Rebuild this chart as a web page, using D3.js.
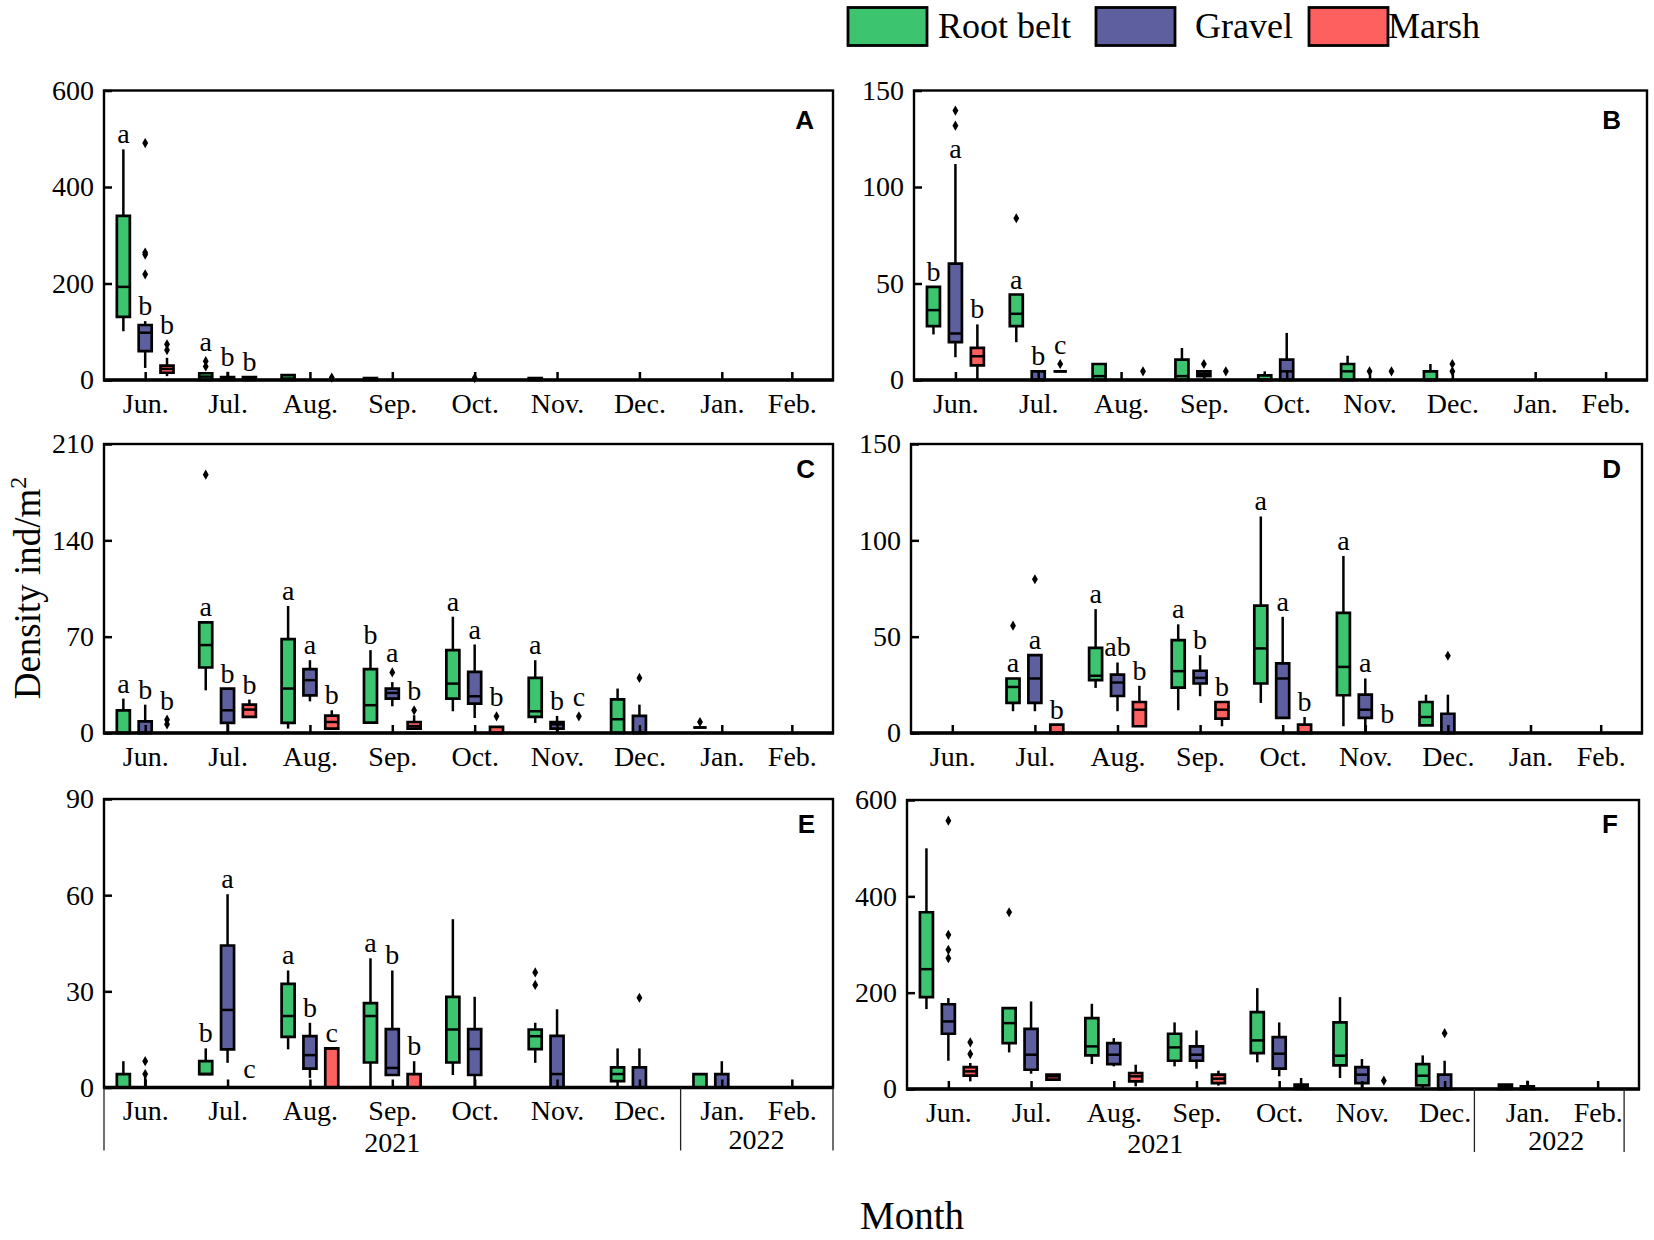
<!DOCTYPE html>
<html>
<head>
<meta charset="utf-8">
<script src="https://cdn.jsdelivr.net/npm/d3@7"></script>
<style>
  body { margin: 0; background: #fff; }
  svg { display: block; font-family: "Liberation Serif", "Times New Roman", serif; }
</style>
</head>
<body>
<script>
// categories
const months = ["Jun.", "Jul.", "Aug.", "Sep.", "Oct.", "Nov.", "Dec.", "Jan.", "Feb."];
const monthPos = [0, 1, 2, 3, 4, 5, 6, 7, 7.85];
const seriesNames = ["Root belt", "Gravel", "Marsh"];

// y tick labels per panel
const yTicksA = [0, 200, 400, 600];
const yTicksB = [0, 50, 100, 150];
const yTicksC = [0, 70, 140, 210];
const yTicksD = [0, 50, 100, 150];
const yTicksE = [0, 30, 60, 90];
const yTicksF = [0, 200, 400, 600];

// boxes: [month, series, low whisker, q1, median, q3, high whisker]
const boxesA = [
  [0, 0, 101, 131, 193, 340, 478], [0, 1, 25, 60, 98, 114, 122], [0, 2, 8, 15, 23, 30, 46],
  [1, 0, 0, 0, 7, 14, 14], [1, 1, 0, 0, 2, 6, 17], [1, 2, 0, 0, 2, 6, 6],
  [2, 0, 0, 0, 3, 10, 10], [3, 0, 0, 0, 1, 4, 4], [5, 0, 0, 0, 1, 4, 4]
];
const outliersA = [
  [0, 1, 491], [0, 1, 264], [0, 1, 260], [0, 1, 219], [0, 2, 62], [0, 2, 74],
  [1, 0, 28], [1, 0, 39], [2, 2, 5], [4, 1, 4]
];
const lettersA = [[0, 0, "a"], [0, 1, "b"], [0, 2, "b"], [1, 0, "a"], [1, 1, "b"], [1, 2, "b"]];

const boxesB = [
  [0, 0, 23.6, 27.9, 36.2, 48.2, 48.2], [0, 1, 11.8, 19.6, 24.1, 60.3, 111.9], [0, 2, 0, 7.6, 12.3, 16.6, 28.8],
  [1, 0, 19.6, 27.9, 34.3, 44.3, 44.3], [1, 1, 0, 0, 0, 4.5, 4.5], [1, 2, 4.5, 4.5, 4.5, 4.5, 4.5],
  [2, 0, 0, 0, 2, 8.3, 8.3],
  [3, 0, 0, 0, 2, 10.6, 16.6], [3, 1, 2, 2, 3, 4.5, 4.5],
  [4, 0, 0, 0, 0, 2.4, 4.5], [4, 1, 0, 0, 4.5, 10.6, 24.4],
  [5, 0, 0, 0, 4.5, 8.3, 12.6],
  [6, 0, 0, 0, 0, 4.5, 8.3]
];
const outliersB = [
  [0, 1, 139.6], [0, 1, 131.8], [1, 0, 83.8], [1, 2, 8.3], [2, 2, 4.5],
  [3, 1, 8.3], [3, 2, 4.5], [5, 1, 4.5], [5, 2, 4.5], [6, 1, 8.3], [6, 1, 4.5]
];
const lettersB = [[0, 0, "b"], [0, 1, "a"], [0, 2, "b"], [1, 0, "a"], [1, 1, "b"], [1, 2, "c"]];

const boxesC = [
  [0, 0, 0, 0, 0, 16.5, 25], [0, 1, 0, 0, 0, 8.5, 20.6],
  [1, 0, 31, 47.6, 63.9, 80.4, 80.4], [1, 1, 0, 7.3, 16.5, 32.3, 32.3], [1, 2, 11.7, 11.7, 17, 20.6, 24.3],
  [2, 0, 3.2, 7.3, 32.3, 68.2, 92.3], [2, 1, 23, 27.4, 38.4, 46.4, 52.9], [2, 2, 3.2, 3.2, 8, 12.6, 16.5],
  [3, 0, 7.5, 7.5, 20.2, 46.4, 60.2], [3, 1, 19.4, 25, 29.1, 32.3, 37], [3, 2, 3.2, 3.2, 5, 8, 12.9],
  [4, 0, 15.8, 25, 35.9, 60.2, 84.5], [4, 1, 10.9, 21.4, 26.7, 44.4, 64.3], [4, 2, 0, 0, 0, 4.4, 4.4],
  [5, 0, 7.3, 11.7, 15.8, 40, 52.9], [5, 1, 0, 3.2, 6.3, 8, 12.4],
  [6, 0, 0, 0, 10, 24.5, 32.3], [6, 1, 0, 0, 0, 12.4, 20.6],
  [7, 0, 4, 4, 4, 4, 4]
];
const outliersC = [
  [0, 2, 9.7], [0, 2, 6.3], [1, 0, 187.7], [3, 1, 44], [3, 2, 16.5],
  [4, 2, 12.1], [5, 2, 12.1], [6, 1, 40], [7, 0, 8]
];
const lettersC = [
  [0, 0, "a"], [0, 1, "b"], [0, 2, "b"], [1, 0, "a"], [1, 1, "b"], [1, 2, "b"],
  [2, 0, "a"], [2, 1, "a"], [2, 2, "b"], [3, 0, "b"], [3, 1, "a"], [3, 2, "b"],
  [4, 0, "a"], [4, 1, "a"], [4, 2, "b"], [5, 0, "a"], [5, 1, "b"], [5, 2, "c"]
];

const boxesD = [
  [1, 0, 11.3, 15.6, 23.9, 28.3, 28.3], [1, 1, 11.3, 15.6, 28.3, 40.4, 40.4], [1, 2, 0, 0, 0, 4.3, 4.3],
  [2, 0, 23.4, 27.4, 29.7, 44.2, 64.3], [2, 1, 11.3, 19.2, 26.2, 30.3, 36.6], [2, 2, 3.5, 3.5, 12.1, 16.1, 24.5],
  [3, 0, 11.8, 23.6, 32.1, 48.2, 56.4], [3, 1, 19.1, 25.7, 28.6, 32.3, 40.4], [3, 2, 3.5, 7.5, 12.1, 16.1, 16.1],
  [4, 0, 15.6, 25.7, 43.9, 66.1, 112.4], [4, 1, 7.8, 7.8, 28.3, 36.1, 60.3], [4, 2, 0, 0, 0, 4.3, 8.3],
  [5, 0, 3.5, 19.6, 34.3, 62.4, 91.9], [5, 1, 0, 7.8, 12.1, 19.9, 28.3],
  [6, 0, 4, 4, 8.3, 16.1, 19.9], [6, 1, 0, 0, 0, 10, 19.9]
];
const outliersD = [[1, 0, 55.7], [1, 1, 79.8], [6, 1, 40.1]];
const lettersD = [
  [1, 0, "a"], [1, 1, "a"], [1, 2, "b"], [2, 0, "a"], [2, 1, "ab"], [2, 2, "b"],
  [3, 0, "a"], [3, 1, "b"], [3, 2, "b"], [4, 0, "a"], [4, 1, "a"], [4, 2, "b"],
  [5, 0, "a"], [5, 1, "a"], [5, 2, "b"]
];

const boxesE = [
  [0, 0, 0, 0, 0, 4.2, 8.2], [0, 1, 0, 0, 0, 0, 4.2],
  [1, 0, 4.2, 4.2, 4.2, 8.2, 12.2], [1, 1, 7.7, 11.9, 24.2, 44.3, 60.3],
  [2, 0, 11.9, 15.8, 22.3, 32.3, 36.5], [2, 1, 3, 5.9, 10.1, 16, 20.2], [2, 2, 0, 0, 12.2, 12.2, 12.2],
  [3, 0, 0, 7.8, 22.3, 26.3, 40.3], [3, 1, 3.9, 3.9, 6.1, 18.2, 36.5], [3, 2, 0, 0, 0, 4.2, 8.2],
  [4, 0, 3.9, 7.8, 18.1, 28.3, 52.5], [4, 1, 0, 3.9, 12, 18.2, 28.3],
  [5, 0, 7.7, 12, 16, 18.1, 20.2], [5, 1, 0, 0, 4.2, 16.1, 24.4],
  [6, 0, 0, 2, 4.2, 6.25, 12.2], [6, 1, 0, 0, 0, 6.25, 12.2],
  [7, 0, 0, 0, 0, 4.2, 4.2], [7, 1, 0, 0, 0, 4.2, 8.2]
];
const outliersE = [[0, 1, 8.2], [0, 1, 4.2], [5, 0, 35.9], [5, 0, 32], [6, 1, 28]];
const lettersE = [
  [1, 0, "b"], [1, 1, "a"], [1, 2, "c"], [2, 0, "a"], [2, 1, "b"], [2, 2, "c"],
  [3, 0, "a"], [3, 1, "b"], [3, 2, "b"]
];

const boxesF = [
  [0, 0, 165.9, 190.7, 248.8, 367, 499.7], [0, 1, 58.7, 114.7, 140.3, 176, 188.7], [0, 2, 15.9, 27.6, 36.6, 45.6, 54],
  [1, 0, 76, 95.4, 136.8, 168, 168], [1, 1, 31.8, 40, 71.2, 125, 181.8], [1, 2, 19.4, 19.4, 26.3, 29.7, 29.7],
  [2, 0, 51.8, 69.8, 88.5, 147.2, 176.9], [2, 1, 47, 51.8, 71.2, 95.4, 105.7], [2, 2, 5.5, 15.9, 26.3, 33.2, 50.4],
  [3, 0, 47, 58.7, 86.4, 114.7, 138.2], [3, 1, 42.2, 58.7, 71.2, 88.5, 121.6], [3, 2, 7, 12.4, 21.4, 29.7, 38],
  [4, 0, 55.3, 74.6, 100.9, 159.6, 209.4], [4, 1, 26.3, 42.2, 73.3, 107.8, 138.2], [4, 2, 0, 0, 4, 9, 22.8],
  [5, 0, 22.8, 49, 69.1, 138.2, 190.7], [5, 1, 0, 12.4, 29.7, 45.6, 62.2],
  [6, 0, 0, 7.6, 27.6, 51.8, 69.8], [6, 1, 0, 0, 0, 29.7, 58.7],
  [7, 0, 0, 0, 4, 9, 9], [7, 1, 0, 0, 2, 5.5, 17.3]
];
const outliersF = [
  [0, 1, 557], [0, 1, 320], [0, 1, 289], [0, 1, 271.6], [0, 2, 96.8], [0, 2, 72.6],
  [1, 0, 367], [5, 2, 17.3], [6, 1, 116]
];
const lettersF = [];

const years = ["2021", "2022"];

// ---- styling / layout ----
const colors = ["#3cc46f", "#5d5f9e", "#fe6060"];
const W = 1654, H = 1240;
const xOffset = [-0.265, 0, 0.265];
const boxW = 13;

const panels = [
  { name: "A", boxes: boxesA, outliers: outliersA, letters: lettersA, ticks: yTicksA, l: 104, t: 90.5, r: 833, b: 380, letterX: 814, letterDy: 38 },
  { name: "B", boxes: boxesB, outliers: outliersB, letters: lettersB, ticks: yTicksB, l: 914, t: 90.5, r: 1647, b: 380, letterX: 1621, letterDy: 38 },
  { name: "C", boxes: boxesC, outliers: outliersC, letters: lettersC, ticks: yTicksC, l: 104, t: 444, r: 833, b: 733, letterX: 815, letterDy: 34 },
  { name: "D", boxes: boxesD, outliers: outliersD, letters: lettersD, ticks: yTicksD, l: 911, t: 444, r: 1642, b: 733, letterX: 1621, letterDy: 34 },
  { name: "E", boxes: boxesE, outliers: outliersE, letters: lettersE, ticks: yTicksE, l: 104, t: 799, r: 833, b: 1087.5, letterX: 815, letterDy: 34,
    brackets: [-0.5, 6.5, 8.35], yearPos: [3, 7.42] },
  { name: "F", boxes: boxesF, outliers: outliersF, letters: lettersF, ticks: yTicksF, l: 907, t: 800, r: 1639, b: 1089, letterX: 1618, letterDy: 33,
    brackets: [6.36, 8.17], yearPos: [2.5, 7.35] }
];

const svg = d3.select("body").append("svg")
  .attr("width", W)
  .attr("height", H);
svg.append("rect").attr("width", W).attr("height", H).attr("fill", "#fff");

panels.forEach(p => {
  const x = d3.scaleLinear().domain([-0.5, 8.35]).range([p.l, p.r]);
  const y = d3.scaleLinear().domain([0, d3.max(p.ticks)]).range([p.b, p.t]);
  const g = svg.append("g").classed("panel", true);
  const cx = (m, s) => x(monthPos[m] + xOffset[s]);

  // whiskers
  g.selectAll("line.whisker")
    .data(p.boxes)
    .enter()
    .append("line")
    .attr("x1", d => cx(d[0], d[1]))
    .attr("x2", d => cx(d[0], d[1]))
    .attr("y1", d => y(d[2]))
    .attr("y2", d => y(d[6]))
    .attr("stroke", "#000")
    .attr("stroke-width", 2.5);

  // boxes (path so zero-height boxes still show a line)
  g.selectAll("path.box")
    .data(p.boxes)
    .enter()
    .append("path")
    .attr("d", d => {
      const c = cx(d[0], d[1]);
      return `M${c - boxW / 2},${y(d[5])}H${c + boxW / 2}V${y(d[3])}H${c - boxW / 2}Z`;
    })
    .attr("fill", d => colors[d[1]])
    .attr("stroke", "#000")
    .attr("stroke-width", 2.7)
    .attr("stroke-linejoin", "miter");

  // medians
  g.selectAll("line.median")
    .data(p.boxes)
    .enter()
    .append("line")
    .attr("x1", d => cx(d[0], d[1]) - boxW / 2)
    .attr("x2", d => cx(d[0], d[1]) + boxW / 2)
    .attr("y1", d => y(d[4]))
    .attr("y2", d => y(d[4]))
    .attr("stroke", "#000")
    .attr("stroke-width", 2.5);

  // outliers
  g.selectAll("path.outlier")
    .data(p.outliers)
    .enter()
    .append("path")
    .attr("d", d3.symbol(d3.symbolDiamond).size(30))
    .attr("transform", d => `translate(${cx(d[0], d[1])},${y(d[2])})`)
    .attr("fill", "#000");

  // significance letters
  g.selectAll("text.sig")
    .data(p.letters)
    .enter()
    .append("text")
    .attr("x", d => cx(d[0], d[1]))
    .attr("y", d => {
      const bx = p.boxes.find(b => b[0] === d[0] && b[1] === d[1]);
      let top = bx ? y(d3.max([bx[5], bx[6]])) : y(0) - 4;
      const outs = p.outliers.filter(o => o[0] === d[0] && o[1] === d[1])
        .map(o => y(o[2])).sort((a, b) => b - a);
      outs.forEach(oy => {
        if (oy < top && top - oy <= 14) top = oy - 4;
      });
      return top - 6;
    })
    .attr("text-anchor", "middle")
    .attr("font-size", 28)
    .text(d => d[2]);

  // frame
  g.append("rect")
    .attr("x", p.l).attr("y", p.t)
    .attr("width", p.r - p.l).attr("height", p.b - p.t)
    .attr("fill", "none")
    .attr("stroke", "#000")
    .attr("stroke-width", 2.4);

  // x axis
  const xAxis = g.append("g")
    .attr("transform", `translate(0,${p.b})`)
    .call(d3.axisBottom(x)
      .tickValues(monthPos)
      .tickFormat((d, i) => months[i])
      .tickSizeInner(-8)
      .tickSizeOuter(0)
      .tickPadding(13));
  xAxis.select(".domain").remove();
  xAxis.selectAll(".tick line").attr("stroke", "#000").attr("stroke-width", 2.5);
  xAxis.selectAll(".tick text")
    .attr("font-family", "Liberation Serif, Times New Roman, serif")
    .attr("font-size", 28)
    .attr("fill", "#000");
  g.append("line")
    .attr("x1", p.l - 1).attr("x2", p.r + 1)
    .attr("y1", p.b).attr("y2", p.b)
    .attr("stroke", "#000")
    .attr("stroke-width", 3.6);

  // y axis
  const yAxis = g.append("g")
    .attr("transform", `translate(${p.l},0)`)
    .call(d3.axisLeft(y)
      .tickValues(p.ticks)
      .tickSizeInner(-8)
      .tickSizeOuter(0)
      .tickPadding(10));
  yAxis.select(".domain").remove();
  yAxis.selectAll(".tick line").attr("stroke", "#000").attr("stroke-width", 2.5);
  yAxis.selectAll(".tick text")
    .attr("font-family", "Liberation Serif, Times New Roman, serif")
    .attr("font-size", 28)
    .attr("fill", "#000");

  // panel letter
  g.append("text")
    .attr("x", p.letterX)
    .attr("y", p.t + p.letterDy)
    .attr("text-anchor", "end")
    .attr("font-family", "Liberation Sans, Arial, sans-serif")
    .attr("font-weight", "bold")
    .attr("font-size", 26)
    .text(p.name);

  // year brackets
  if (p.brackets) {
    g.selectAll("line.bracket")
      .data(p.brackets)
      .enter()
      .append("line")
      .attr("x1", d => x(d)).attr("x2", d => x(d))
      .attr("y1", p.b).attr("y2", p.b + 63)
      .attr("stroke", "#222")
      .attr("stroke-width", 1.3);
    g.selectAll("text.year")
      .data(years)
      .enter()
      .append("text")
      .attr("x", (d, i) => x(p.yearPos[i]))
      .attr("y", (d, i) => p.b + (i === 0 ? 64 : 61))
      .attr("text-anchor", "middle")
      .attr("font-size", 28)
      .text(d => d);
  }
});

// y-axis title
svg.append("text")
  .attr("transform", "translate(40,588) rotate(-90)")
  .attr("text-anchor", "middle")
  .attr("font-size", 37)
  .call(t => {
    t.append("tspan").text("Density ind/m");
    t.append("tspan").attr("font-size", 24).attr("dy", -14).text("2");
  });

// x-axis title
svg.append("text")
  .attr("x", 912)
  .attr("y", 1229)
  .attr("text-anchor", "middle")
  .attr("font-size", 39)
  .text("Month");

// legend
const legendRects = [848, 1096, 1309];
const legendTexts = [938, 1195, 1388];
const legend = svg.append("g").classed("legend", true);
legend.selectAll("rect")
  .data(seriesNames)
  .enter()
  .append("rect")
  .attr("x", (d, i) => legendRects[i])
  .attr("y", 7.5)
  .attr("width", 79)
  .attr("height", 38)
  .attr("fill", (d, i) => colors[i])
  .attr("stroke", "#000")
  .attr("stroke-width", 2.8);
legend.selectAll("text")
  .data(seriesNames)
  .enter()
  .append("text")
  .attr("x", (d, i) => legendTexts[i])
  .attr("y", 37.5)
  .attr("font-size", 36)
  .text(d => d);
</script>
</body>
</html>
